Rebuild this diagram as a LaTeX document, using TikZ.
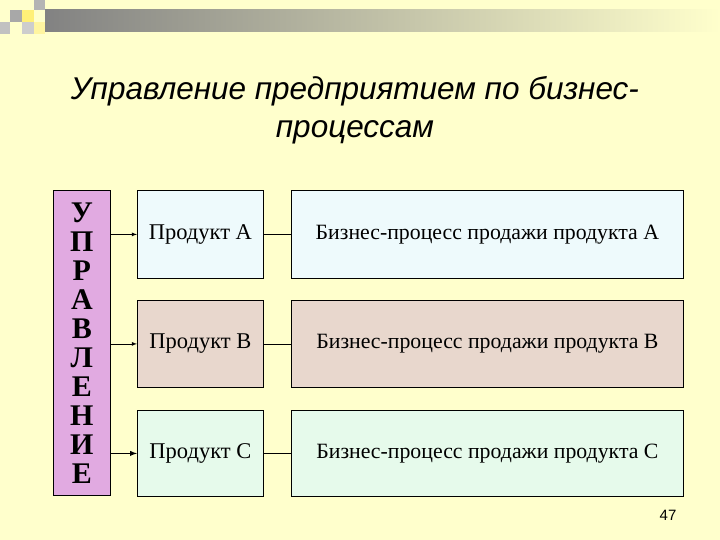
\documentclass[tikz,border=0pt]{standalone}
\usepackage{fontspec}
\setmainfont{Liberation Serif}
\newfontfamily\titlefont{Liberation Sans}
\usetikzlibrary{patterns}
\definecolor{bg}{RGB}{255,255,204}
\definecolor{lila}{RGB}{225,170,225}
\definecolor{cA}{RGB}{238,250,252}
\definecolor{cB}{RGB}{232,215,205}
\definecolor{cC}{RGB}{230,250,235}
\definecolor{sqg}{RGB}{130,130,130}
\definecolor{sqy}{RGB}{255,240,120}
\begin{document}
\begin{tikzpicture}[x=1pt,y=-1pt,
  prod/.style={draw=black,line width=0.8pt,minimum width=126pt,anchor=north west,font=\fontsize{22.5}{26}\selectfont},
  proc/.style={draw=black,line width=0.8pt,minimum width=392pt,anchor=north west,font=\fontsize{21.8}{25}\selectfont},
  arr/.style={-latex,line width=0.8pt},
  ln/.style={line width=0.8pt}]
\fill[bg] (0,0) rectangle (720,540);
\useasboundingbox (0,0) rectangle (720,540);
% top bar
\shade[left color=sqg, right color=bg] (45,10) rectangle (720,32);
\fill[sqg!70] (10,10) rectangle (22,22);
\fill[sqy] (22,10) rectangle (34,22);
\fill[sqg!60] (34,0) rectangle (45,10);
\fill[sqg!40] (22,22) rectangle (34,34);
\fill[sqy!70] (34,22) rectangle (45,34);
\fill[sqg!50] (0,22) rectangle (10,34);
% title
\node[font=\titlefont\itshape\fontsize{31.5}{38}\selectfont,align=center] (title) at (355,110)
  {Управление предприятием по бизнес-\\процессам};
% left box
\node[draw=black,line width=0.8pt,fill=lila,minimum width=57pt,minimum height=305pt,anchor=north west,inner sep=0pt,
  font=\bfseries\fontsize{30}{29}\selectfont,align=center] (upr) at (53,190)
  {У\\П\\Р\\А\\В\\Л\\Е\\Н\\И\\Е};
\node[prod,fill=cA,minimum height=88pt] (pa) at (137,190) {Продукт A};
\node[prod,fill=cB,minimum height=87pt] (pb) at (137,300) {Продукт B};
\node[prod,fill=cC,minimum height=86pt] (pc) at (137,410) {Продукт C};
\node[proc,fill=cA,minimum height=88pt] (qa) at (291,190) {Бизнес-процесс продажи продукта A};
\node[proc,fill=cB,minimum height=87pt] (qb) at (291,300) {Бизнес-процесс продажи продукта B};
\node[proc,fill=cC,minimum height=86pt] (qc) at (291,410) {Бизнес-процесс продажи продукта C};
\draw[arr] (upr.east |- pa.west) -- (pa.west);
\draw[arr] (upr.east |- pb.west) -- (pb.west);
\draw[arr,line width=1.4pt] (upr.east |- pc.west) -- (pc.west);
\draw[ln] (pa.east) -- (qa.west);
\draw[ln] (pb.east) -- (qb.west);
\draw[ln] (pc.east) -- (qc.west);
\node[font=\titlefont\fontsize{15}{17}\selectfont] (pg) at (668,515) {47};
\end{tikzpicture}
\end{document}
